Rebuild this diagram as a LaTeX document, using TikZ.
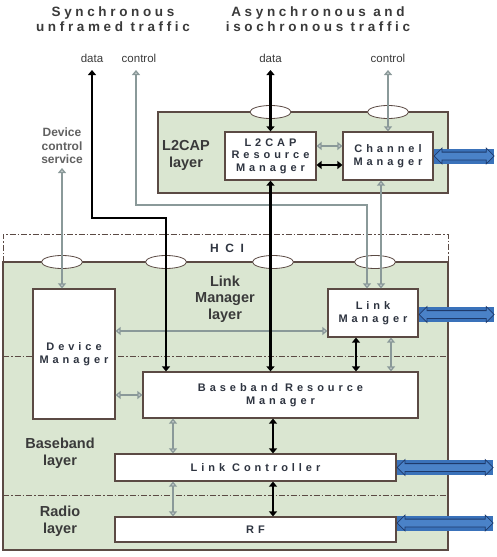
\documentclass[tikz,border=0pt]{standalone}
\usepackage{fontspec}
\setmainfont{Liberation Sans}
\newfontfamily\spc[LetterSpace=36]{Liberation Sans}
\newfontfamily\spct[LetterSpace=27]{Liberation Sans}
\newfontfamily\spcw[LetterSpace=55]{Liberation Sans}
\usetikzlibrary{arrows.meta,shapes.geometric,shapes.arrows}
\definecolor{grn}{HTML}{DAE6D1}
\definecolor{brd}{HTML}{5B4A44}
\definecolor{gry}{HTML}{8A9999}
\definecolor{txt}{HTML}{2E3440}
\definecolor{ttl}{HTML}{3A3A3A}
\definecolor{bl}{HTML}{3A72BA}
\definecolor{bll}{HTML}{4A82C8}
\definecolor{bld}{HTML}{1E3A6B}
\tikzset{
  layer/.style={draw=brd, line width=1.2pt, fill=grn, inner sep=0pt},
  box/.style={draw=brd, line width=1.2pt, fill=white, inner sep=0pt, align=center,
    font=\spc\bfseries\fontsize{11}{12.5}\selectfont, text=txt},
  oval/.style={ellipse, draw=brd, line width=0.8pt, fill=white, minimum width=41pt, minimum height=13pt, inner sep=0pt},
  dd/.style={draw=brd, line width=0.9pt, dash pattern=on 6pt off 2pt on 1.5pt off 2pt},
  blk/.style={line width=2.8pt, draw=black, {Triangle[width=8pt,length=5pt]}-{Triangle[width=8pt,length=5pt]}},
  gra/.style={line width=2.8pt, draw=gry, {Triangle[width=8pt,length=5pt,fill=gry!45]}-{Triangle[width=8pt,length=5pt,fill=gry!45]}},
  lbl/.style={font=\bfseries\fontsize{14.5}{16.5}\selectfont, text=ttl, align=center},
  ttlf/.style={font=\spct\bfseries\fontsize{13.5}{15}\selectfont, text=ttl, align=center},
  sml/.style={font=\fontsize{11.5}{13}\selectfont, text=ttl},
  bback/.style={fill=bl, inner sep=0pt, minimum height=15pt},
  barrow/.style={double arrow, draw=bld, line width=0.8pt, fill=bll, inner sep=3.5pt,
    double arrow head extend=4pt, double arrow head indent=0pt},
}
\begin{document}
\begin{tikzpicture}[x=1pt,y=-1pt]
\useasboundingbox (0,0) rectangle (497,557);

% titles
\node[ttlf] (t1) at (113,19) {Synchronous\\unframed traffic};
\node[ttlf] (t2) at (318,19) {Asynchronous and\\isochronous traffic};
\node[sml] (d1) at (92,58) {data};
\node[sml] (c1) at (139,58) {control};
\node[sml] (d2) at (270.5,58) {data};
\node[sml] (c2) at (388,58) {control};
\node[font=\bfseries\fontsize{12}{13.5}\selectfont, text=ttl!80, align=center] (dcs) at (62,146) {Device\\control\\service};

% layer backgrounds
\node[layer, minimum width=290pt, minimum height=81pt] (l2layer) at (303,152.5) {};
\node[layer, minimum width=445pt, minimum height=288pt] (low) at (225.5,406) {};
\draw[dd] (3,262) -- (3,234) -- (448,234) -- (448,262);
\draw[dd] (3,356) -- (448,356);
\draw[dd] (3,495) -- (448,495);

% ovals
\node[oval] (o1) at (270.5,112) {};
\node[oval] (o2) at (388,112) {};
\node[oval] (o3) at (62,262) {};
\node[oval] (o4) at (166,262) {};
\node[oval] (o5) at (273,262) {};
\node[oval] (o6) at (375,262) {};

% layer labels
\node[lbl] (l2lbl) at (186,155.5) {L2CAP\\layer};
\node[lbl] (lmlbl) at (225,299) {Link\\Manager\\layer};
\node[lbl] (bblbl) at (60,453) {Baseband\\layer};
\node[lbl] (rdlbl) at (60,521) {Radio\\layer};
\node[font=\spcw\bfseries\fontsize{12}{13}\selectfont, text=txt] (hci) at (227,248) {HCI};

% boxes
\node[box, minimum width=91pt, minimum height=48pt] (l2rm) at (270.5,156) {L2CAP\\Resource\\Manager};
\node[box, minimum width=90pt, minimum height=48pt] (cm) at (388,156) {Channel\\Manager};
\node[box, minimum width=82pt, minimum height=130pt] (dm) at (74,354) {Device\\Manager};
\node[box, minimum width=90pt, minimum height=48pt] (lm) at (373,313) {Link\\Manager};
\node[box, minimum width=275pt, minimum height=46pt] (brm) at (280.5,395) {Baseband Resource\\Manager};
\node[box, minimum width=281pt, minimum height=27pt] (lc) at (255.5,467.5) {Link Controller};
\node[box, minimum width=281pt, minimum height=25pt] (rf) at (255.5,529.5) {RF};

% helper coordinates
\coordinate (sdtop) at (92,70);
\coordinate (sdb) at (166,218);
\coordinate (sctop) at (136,70);
\coordinate (scb) at (367,205);
\coordinate (adtop) at (270.5,70);
\coordinate (actop) at (388,70);
\coordinate (dctop) at (62,168);
\coordinate (xg) at (173,0);
\coordinate (xb) at (273,0);

% gray connectors
\draw[gra] (sctop) |- (scb) -- (scb |- lm.north);
\draw[gra] (actop) -- (cm.north);
\draw[gra] ([xshift=-7pt]cm.south) -- ([xshift=-7pt]cm.south |- lm.north);
\draw[gra] ([yshift=10pt]l2rm.east) -- ([yshift=10pt]l2rm.east -| cm.west);
\draw[gra] (dctop) -- (dctop |- dm.north);
\draw[gra] ([yshift=23pt]dm.east) -- ([yshift=23pt]dm.east -| lm.west);
\draw[gra] (brm.west) -- (brm.west -| dm.east);
\draw[gra] ([xshift=18pt]lm.south) -- ([xshift=18pt]lm.south |- brm.north);
\draw[gra] (xg |- brm.south) -- (xg |- lc.north);
\draw[gra] (xg |- lc.south) -- (xg |- rf.north);

% black connectors
\draw[blk] (sdtop) -- (92,218) -- (sdb) -- (sdb |- brm.north);
\draw[blk] (adtop) -- (l2rm.north);
\draw[blk] (l2rm.south) -- (l2rm.south |- brm.north);
\draw[blk] ([yshift=-9pt]l2rm.east) -- ([yshift=-9pt]l2rm.east -| cm.west);
\draw[blk] ([xshift=-17pt]lm.south) -- ([xshift=-17pt]lm.south |- brm.north);
\draw[blk] (xb |- brm.south) -- (xb |- lc.north);
\draw[blk] (xb |- lc.south) -- (xb |- rf.north);

% blue interface arrows
\node[bback, minimum width=60pt, anchor=west] (bb1) at (cm.east) {};
\node[barrow, minimum height=60pt, anchor=west] (ba1) at (cm.east) {};
\node[bback, minimum width=75pt, anchor=west] (bb2) at ([yshift=-1.5pt]lm.east) {};
\node[barrow, minimum height=75pt, anchor=west] (ba2) at ([yshift=-1.5pt]lm.east) {};
\node[bback, minimum width=96pt, anchor=west] (bb3) at (lc.east) {};
\node[barrow, minimum height=96pt, anchor=west] (ba3) at (lc.east) {};
\node[bback, minimum width=96pt, anchor=west] (bb4) at ([yshift=6.5pt]rf.east) {};
\node[barrow, minimum height=96pt, anchor=west] (ba4) at ([yshift=6.5pt]rf.east) {};
\end{tikzpicture}
\end{document}
